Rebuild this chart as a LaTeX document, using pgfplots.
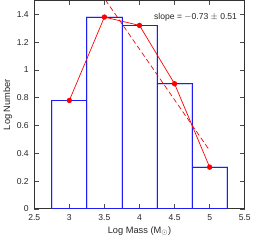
\documentclass[border=0pt]{standalone}
\usepackage{fontspec}
\setmainfont{Liberation Sans}
\usepackage{pgfplots}
\pgfplotsset{compat=1.18}
\definecolor{barblue}{RGB}{30,30,240}
\begin{document}
\begin{tikzpicture}
\begin{axis}[
  scale only axis,
  width=211pt, height=209pt,
  xmin=2.5, xmax=5.5, ymin=0, ymax=1.5,
  xtick={2.5,3,3.5,4,4.5,5,5.5},
  ytick={0,0.2,0.4,0.6,0.8,1,1.2,1.4},
  tick align=inside,
  major tick length=4.5pt,
  tick style={black!70, line width=0.6pt},
  axis line style={black!80, line width=0.8pt},
  /pgf/number format/assume math mode=true,
  ticklabel style={font=\fontsize{8.6}{10}\selectfont, text=black!85},
  label style={font=\fontsize{9.3}{11}\selectfont, text=black!85},
  xticklabel style={yshift=-2pt},
  yticklabel style={xshift=-2pt},
  xlabel={Log Mass (M$_\odot$)},
  ylabel={Log Number},
  xlabel style={yshift=1pt},
  ylabel style={yshift=-2pt},
  clip=true,
]
\addplot[ybar, bar width=0.5, draw=blue!18, line width=1.8pt, fill=none, forget plot] coordinates {
  (3,0.78) (3.5,1.38) (4,1.32) (4.5,0.90) (5,0.30)
};
\addplot[ybar, bar width=0.5, draw=barblue, line width=0.8pt, fill=none] coordinates {
  (3,0.78) (3.5,1.38) (4,1.32) (4.5,0.90) (5,0.30)
};
\addplot[red, line width=0.7pt, mark=*, mark size=2.3pt, mark options={fill=red, draw=red}] coordinates {
  (3,0.78) (3.5,1.38) (4,1.32) (4.5,0.90) (5,0.30)
};
\addplot[red, dash pattern=on 5pt off 3pt, line width=0.7pt] coordinates {
  (3.45,1.55) (5.0,0.42)
};
\node[anchor=east, font=\fontsize{8.6}{10}\selectfont, text=black!85] at (axis cs:5.44,1.38) {slope = $-$0.73 $\pm$ 0.51};
\end{axis}
\end{tikzpicture}
\end{document}
